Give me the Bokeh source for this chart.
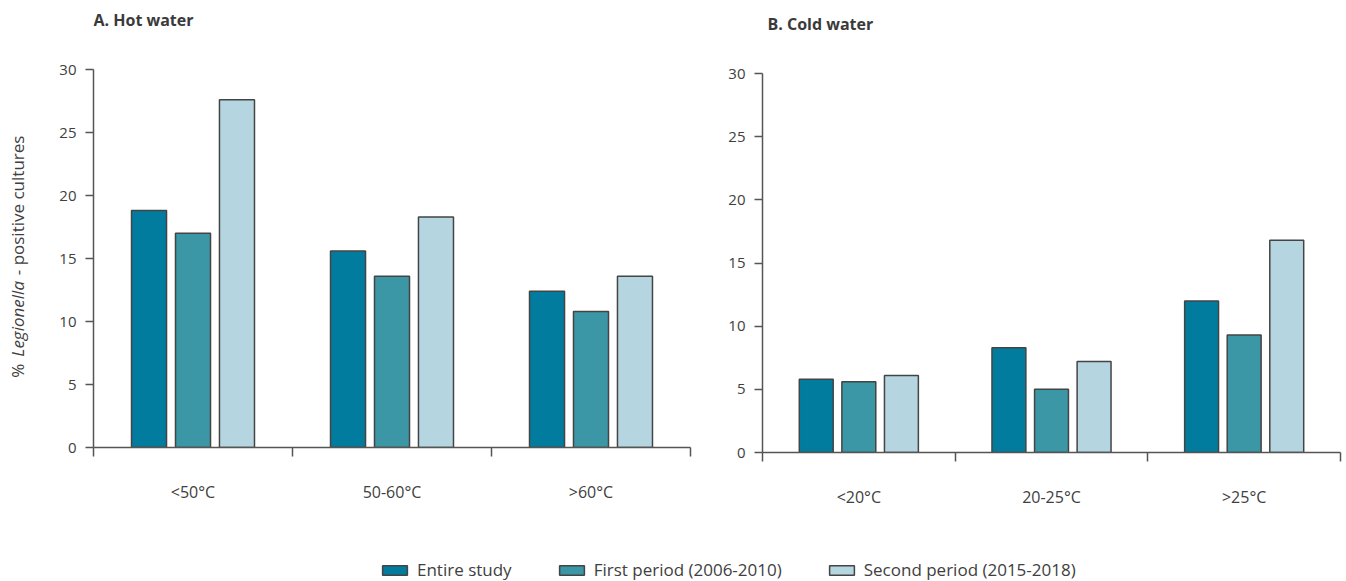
from bokeh.plotting import figure
from bokeh.models import (ColumnDataSource, Range1d, FixedTicker, SingleIntervalTicker,
                          Label, Legend, LegendItem)
from bokeh.layouts import column, row
from bokeh.embed import file_html
from bokeh.resources import INLINE
import math

# ---- data ----
series_names = ["Entire study", "First period (2006-2010)", "Second period (2015-2018)"]
series_colors = ["#027c9e", "#3b96a5", "#b5d5e1"]

hot_categories = ["<50°C", "50-60°C", ">60°C"]
hot_entire = [18.8, 15.6, 12.4]
hot_first = [17.0, 13.6, 10.8]
hot_second = [27.6, 18.3, 13.6]

cold_categories = ["<20°C", "20-25°C", ">25°C"]
cold_entire = [5.8, 8.3, 12.0]
cold_first = [5.6, 5.0, 9.3]
cold_second = [6.1, 7.2, 16.8]

y_label_parts = ["%", "Legionella", "- positive cultures"]

FONT = "Open Sans"
TXT = "#404040"
AXC = "#555555"
offsets = [-0.221, 0.0, 0.221]
bar_w = 0.176
ROW_H = 555


def make_panel(title, cats, vals, frame_w, axis_top_px, zero_px, mb_left, mb_right, title_x):
    px_per_unit = (zero_px - axis_top_px) / 30.0
    ymax = zero_px / px_per_unit
    p = figure(frame_width=frame_w, frame_height=zero_px,
               min_border_left=mb_left, min_border_top=0,
               min_border_right=mb_right, min_border_bottom=ROW_H - zero_px,
               x_range=Range1d(0, len(cats)), y_range=Range1d(0, ymax),
               toolbar_location=None, output_backend="svg", tools="")
    p.outline_line_color = None
    p.grid.visible = False
    for k, v in enumerate(vals):
        src = ColumnDataSource(dict(x=[i + 0.5 + offsets[k] for i in range(len(cats))], top=v))
        p.vbar(x="x", top="top", bottom=0, width=bar_w, source=src,
               fill_color=series_colors[k], line_color="#444444", line_width=1.5)
    xa = p.xaxis[0]
    xa.ticker = FixedTicker(ticks=[i + 0.5 for i in range(len(cats))],
                            minor_ticks=list(range(len(cats) + 1)))
    xa.major_label_overrides = {i + 0.5: c for i, c in enumerate(cats)}
    xa.major_tick_line_color = None
    xa.major_tick_out = 0
    xa.major_tick_in = 0
    xa.minor_tick_line_color = AXC
    xa.minor_tick_line_width = 1.5
    xa.minor_tick_out = 9
    xa.minor_tick_in = 0
    xa.major_label_standoff = 24
    xa.major_label_text_font_size = "16px"
    ya = p.yaxis[0]
    ya.ticker = SingleIntervalTicker(interval=5, num_minor_ticks=0)
    ya.bounds = (0, 30)
    ya.major_tick_out = 8
    ya.major_tick_in = 0
    ya.minor_tick_line_color = None
    ya.major_label_standoff = 9
    ya.major_tick_line_color = AXC
    ya.major_label_text_font_size = "15px"
    for ax in (xa, ya):
        ax.axis_line_color = AXC
        ax.axis_line_width = 1.5
        ax.major_tick_line_width = 1.5
        ax.major_label_text_font = FONT
        ax.major_label_text_color = TXT
    # title centred 50 px above the top of the value axis
    p.add_layout(Label(x=title_x, y=30 + 50 / px_per_unit,
                       text=title, text_font=FONT, text_font_style="bold", text_font_size="16px",
                       text_color="#3a3a3a", text_align="left", text_baseline="middle"))
    return p


YL_W = 32
p1 = make_panel("A. Hot water", hot_categories, [hot_entire, hot_first, hot_second],
                597, 69, 447, 93 - YL_W, 13, 0.0)
p2 = make_panel("B. Cold water", cold_categories, [cold_entire, cold_first, cold_second],
                578, 73, 452, 59, 4, 0.026)

# y-axis label column (separate narrow figure so the text is not clipped)
pyl = figure(frame_width=YL_W, frame_height=447, min_border=0, min_border_bottom=ROW_H - 447,
             x_range=Range1d(0, YL_W), y_range=Range1d(0, 447),
             toolbar_location=None, output_backend="svg", tools="")
pyl.outline_line_color = None
pyl.axis.visible = False
pyl.grid.visible = False
widths = [14, 7, 77, 4.5, 142]
center_px = 447 - 255  # px above bottom of the frame
start = center_px - sum(widths) / 2
pos = [start, start + widths[0] + widths[1], start + widths[0] + widths[1] + widths[2] + widths[3]]
for txt, yp, st in zip(y_label_parts, pos, ["normal", "italic", "normal"]):
    pyl.add_layout(Label(x=17, y=yp, text=txt, angle=math.pi / 2,
                         text_font=FONT, text_font_style=st, text_font_size="17px",
                         text_color=TXT, text_align="left", text_baseline="middle"))

# legend figure (dummy renderers hold NaN so they draw nothing themselves)
LEG_W = 1344
pl = figure(frame_width=LEG_W, frame_height=26, min_border=0,
            x_range=Range1d(0, 1), y_range=Range1d(0, 1),
            toolbar_location=None, output_backend="svg", tools="")
pl.outline_line_color = None
pl.axis.visible = False
pl.grid.visible = False
items = []
for name, col in zip(series_names, series_colors):
    r = pl.vbar(x=[float("nan")], bottom=[float("nan")], top=[float("nan")], width=0.1,
                fill_color=col, line_color="#444444", line_width=1.5)
    items.append(LegendItem(label=name, renderers=[r]))
leg = Legend(items=items, orientation="horizontal", location=(379, 0),
             glyph_width=31, glyph_height=12, label_standoff=7, spacing=44,
             padding=0, margin=0, border_line_color=None, background_fill_alpha=0,
             label_text_font=FONT, label_text_font_size="17px", label_text_color=TXT,
             label_height=18)
pl.add_layout(leg)

layout = column(row(pyl, p1, p2), pl)
open("out.html", "w").write(file_html(layout, INLINE))
